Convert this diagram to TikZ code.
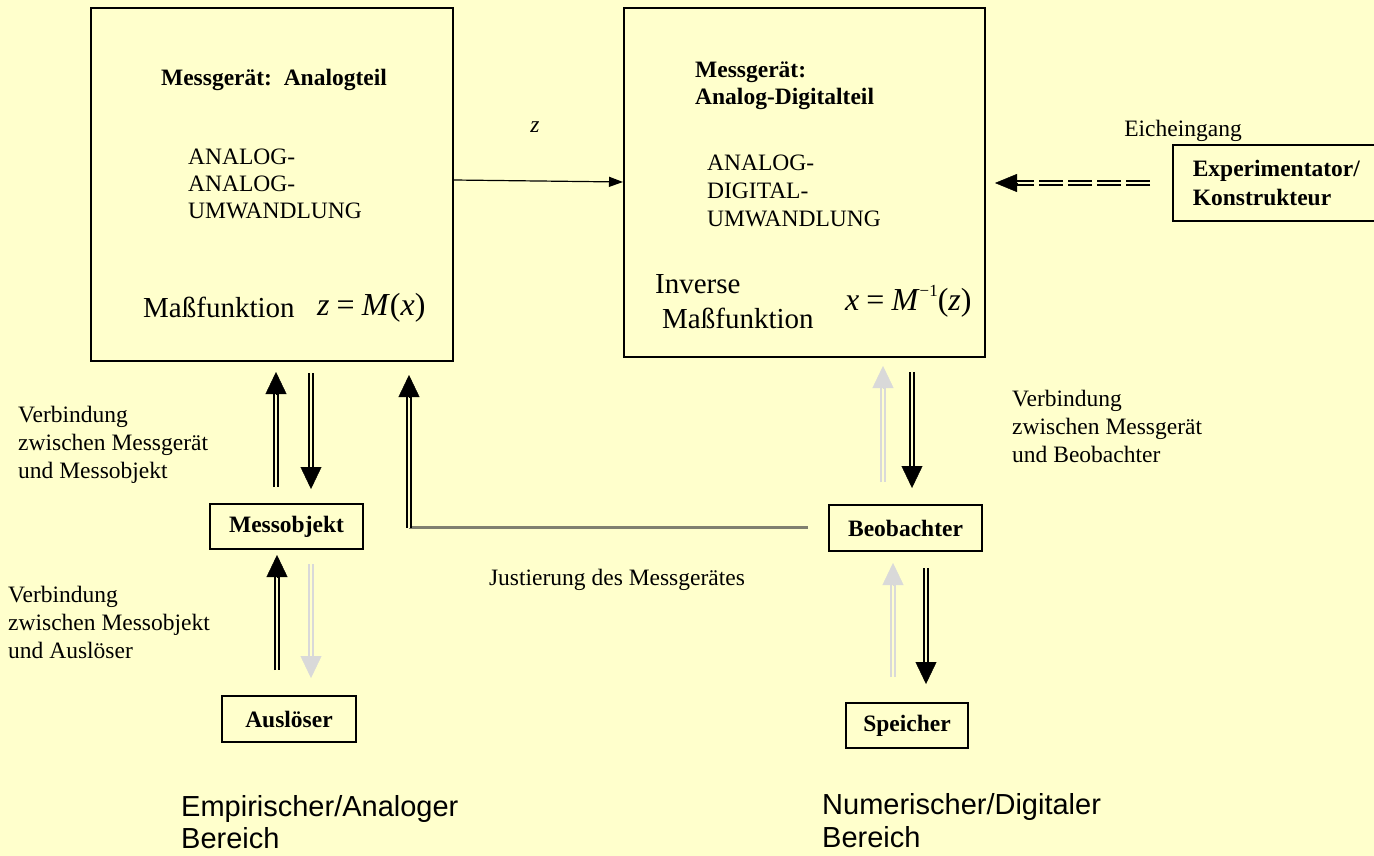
\documentclass[tikz,border=0pt]{standalone}
\usepackage{fontspec}
\setmainfont{Liberation Serif}
\newfontfamily\arialf{Liberation Sans}
\usetikzlibrary{arrows.meta,calc}
\definecolor{bg}{RGB}{255,255,204}
\definecolor{lgray}{RGB}{217,217,217}
\definecolor{jgray}{RGB}{128,128,112}
\newcommand\fsz[2]{\fontsize{#1}{#2}\selectfont}
\newcommand\dblarr[3]{%
  \draw[shaft, draw=#1, shorten >=21pt] (#2) -- (#3);
  \draw[draw=#1, line width=0.4pt, -{Triangle[width=21pt,length=22pt]}] ($(#3)!22pt!(#2)$) -- (#3);}
\tikzset{
  shaft/.style={line width=2pt, double=bg, double distance=2.5pt},
  box/.style={draw=black, line width=1.6pt},
  sbox/.style={box, font=\bfseries\fsz{23.5}{28}, inner sep=0pt},
  lbl/.style={inner sep=0pt, align=left, font=\fsz{23.5}{28}},
}
\begin{document}
\begin{tikzpicture}[x=1pt,y=-1pt]
\fill[bg] (0,0) rectangle (1374,856);
\useasboundingbox (0,0) rectangle (1374,856);

% big boxes
\node[box, anchor=north west, minimum width=362pt, minimum height=353pt] (boxA) at (90,7) {};
\node[box, anchor=north west, minimum width=361pt, minimum height=349pt] (boxB) at (623,7) {};

% box A texts
\node[lbl, font=\bfseries\fsz{23.5}{28}, anchor=base] (tA) at (274,86) {Messgerät:\ \ Analogteil};
\node[lbl, font=\fsz{23.5}{27}, anchor=north west] (anA) at (188,149) {ANALOG-\\ANALOG-\\UMWANDLUNG};
\node[lbl, font=\fsz{29}{35}, anchor=base west] (mfA) at (143,317) {Maßfunktion};
\node[lbl, font=\fsz{32}{38}, anchor=base west] (fA) at (317,315) {\textit{z}\hspace{0.22em}=\hspace{0.22em}\textit{M}(\textit{x})};

% box B texts
\node[lbl, font=\bfseries\fsz{23.5}{27}, anchor=north west] (tB) at (695,62) {Messgerät:\\Analog-Digitalteil};
\node[lbl, font=\fsz{23.5}{28}, anchor=north west] (anB) at (707,155) {ANALOG-\\DIGITAL-\\UMWANDLUNG};
\node[lbl, font=\fsz{29}{35}, anchor=base west] (inv) at (655,293) {Inverse};
\node[lbl, font=\fsz{29}{35}, anchor=base west] (mfB) at (662,328) {Maßfunktion};
\node[lbl, font=\fsz{32}{38}, anchor=base west] (fB) at (845,310) {\textit{x}\hspace{0.22em}=\hspace{0.22em}\textit{M}\raisebox{0.42em}{\fsz{17}{17}−1}(\textit{z})};

% z arrow
\node[lbl, font=\itshape\fsz{23.5}{28}, anchor=base] (zl) at (535,133) {z};
\coordinate (zs) at ($(boxA.north east)+(0,173)$);
\coordinate (ze) at ($(boxB.north west)+(0,175)$);
\draw[line width=1.2pt, -{Triangle[width=10pt,length=14pt]}] (zs) -- (ze);

% Experimentator
\node[lbl, anchor=base] (eich) at (1183,137) {Eicheingang};
\node[box, font=\bfseries\fsz{23.5}{28.5}, align=left, anchor=north west, inner xsep=20pt, inner ysep=0pt, text width=172pt, minimum height=76pt] (exp) at (1172,144) {Experimentator/\\Konstrukteur};
\coordinate (es) at (1150,183);
\coordinate (ee) at (995,183);
\draw[line width=2pt, double=bg, double distance=2pt, dash pattern=on 24pt off 5pt, shorten >=20pt] (es) -- (ee);
\draw[line width=0.4pt, -{Triangle[width=18pt,length=22pt]}] ($(ee)!22pt!(es)$) -- (ee);

% small boxes
\node[sbox, minimum width=153pt, minimum height=45pt] (mo) at (286.5,526.5) {Messobjekt};
\node[sbox, minimum width=134pt, minimum height=46pt] (ausl) at (289,719) {Auslöser};
\node[sbox, minimum width=153pt, minimum height=46pt] (beob) at (905.5,528) {Beobachter};
\node[sbox, minimum width=122pt, minimum height=45pt] (speich) at (907,725.5) {Speicher};

% labels
\node[lbl, anchor=north west] (v1) at (18,406) {Verbindung\\zwischen Messgerät\\und Messobjekt};
\node[lbl, anchor=north west] (v2) at (8,586) {Verbindung\\zwischen Messobjekt\\und Auslöser};
\node[lbl, anchor=north west] (v3) at (1012,390) {Verbindung\\zwischen Messgerät\\und Beobachter};
\node[lbl, anchor=base] (just) at (617,585) {Justierung des Messgerätes};

\node[lbl, font=\arialf\fsz{29}{32}, anchor=north west] (emp) at (181,795) {Empirischer/Analoger\\Bereich};
\node[lbl, font=\arialf\fsz{29}{33}, anchor=north west] (num) at (822,793) {Numerischer/Digitaler\\Bereich};

% arrows between box A and Messobjekt
\coordinate (a1s) at (276,487); \coordinate (a1e) at (276,372);
\coordinate (a2s) at (311,373); \coordinate (a2e) at (311,489);
\dblarr{black}{a1s}{a1e}
\dblarr{black}{a2s}{a2e}

% Justierung
\coordinate (jr) at (808,527.5);
\coordinate (jl) at (409,527.5);
\coordinate (jt) at (409,375);
\draw[jgray, line width=2.5pt] (jr) -- (jl);
\dblarr{black}{jl}{jt}

% Messobjekt - Ausloeser
\coordinate (a4s) at (277,670); \coordinate (a4e) at (277,555);
\coordinate (a5s) at (311,564); \coordinate (a5e) at (311,678);
\dblarr{black}{a4s}{a4e}
\dblarr{lgray}{a5s}{a5e}

% box B - Beobachter
\coordinate (a6s) at (883,482); \coordinate (a6e) at (883,366);
\coordinate (a7s) at (912,372); \coordinate (a7e) at (912,488);
\dblarr{lgray}{a6s}{a6e}
\dblarr{black}{a7s}{a7e}

% Beobachter - Speicher
\coordinate (a8s) at (893,677); \coordinate (a8e) at (893,563);
\coordinate (a9s) at (926,568); \coordinate (a9e) at (926,684);
\dblarr{lgray}{a8s}{a8e}
\dblarr{black}{a9s}{a9e}
\end{tikzpicture}
\end{document}
